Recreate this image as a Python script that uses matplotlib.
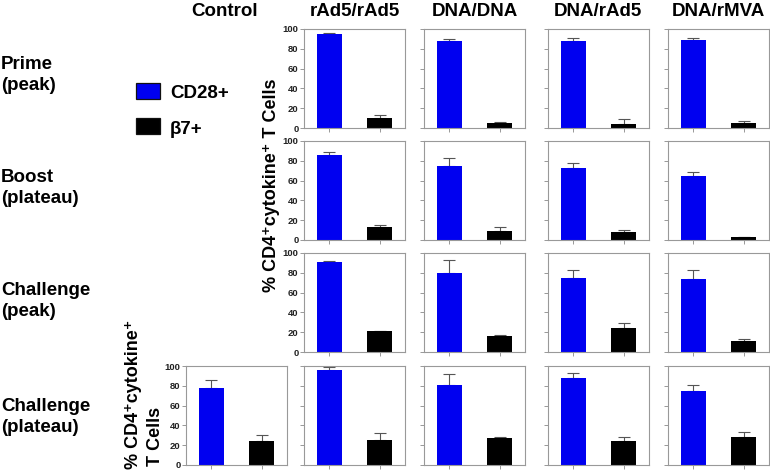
import matplotlib
matplotlib.use("Agg")
import matplotlib.pyplot as plt
from matplotlib.patches import Rectangle

plt.rcParams['font.family'] = ['Liberation Sans', 'DejaVu Sans']
plt.rcParams['font.weight'] = 'bold'

groups = ['Control', 'rAd5/rAd5', 'DNA/DNA', 'DNA/rAd5', 'DNA/rMVA']
phases = ['Prime\n(peak)', 'Boost\n(plateau)', 'Challenge\n(peak)', 'Challenge\n(plateau)']
subsets = ['CD28+', '\u03b27+']

# rows = phases, columns = groups (None = no panel)
cd28_mean = [
    [None, 95, 88, 88, 89],
    [None, 86, 75, 73, 65],
    [None, 91, 80, 75, 74],
    [78, 96, 81, 88, 75],
]
cd28_err = [
    [None, 1, 2, 2.5, 2],
    [None, 3, 8, 4.5, 3.5],
    [None, 0.5, 13, 7.5, 9],
    [7.5, 3, 10.5, 5, 5.5],
]
b7_mean = [
    [None, 10, 5, 4, 5.5],
    [None, 13, 9, 8, 2.7],
    [None, 21, 16, 24, 11.5],
    [24.5, 25.5, 27.5, 24, 28.5],
]
b7_err = [
    [None, 3, 1.5, 5, 1.5],
    [None, 2, 4.5, 2.5, 0],
    [None, 0, 1.5, 5, 2],
    [6, 6.5, 0.5, 4.5, 4.5],
]

colors = ['#0000f0', 'black']
W, H = 770, 470
col_left = [186, 304, 424, 548, 668]
row_top = [29, 141, 253, 366]
aw, ah = 101, 99

fig = plt.figure(figsize=(7.7, 4.7), dpi=100)

for r in range(len(phases)):
    for c in range(len(groups)):
        if cd28_mean[r][c] is None:
            continue
        ax = fig.add_axes([col_left[c] / W, 1 - (row_top[r] + ah) / H, aw / W, ah / H])
        means = [cd28_mean[r][c], b7_mean[r][c]]
        errs = [cd28_err[r][c], b7_err[r][c]]
        ax.bar([0, 1], means, width=0.5, color=colors, zorder=2)
        ax.errorbar([0, 1], means, yerr=[[0, 0], errs], fmt='none', ecolor='#555555',
                    elinewidth=0.8, capsize=4, capthick=0.8, zorder=1)
        ax.set_xlim(-0.5, 1.5)
        ax.set_ylim(0, 100)
        ax.set_xticks([0, 1])
        ax.set_xticklabels([])
        ax.set_yticks([0, 20, 40, 60, 80, 100])
        show_y = (c == 1 and r < 3) or (c == 0)
        if not show_y:
            ax.set_yticklabels([])
        for s in ax.spines.values():
            s.set_color('#999999')
            s.set_linewidth(0.8)
        ax.tick_params(direction='out', length=3, width=0.6, color='#888888',
                       labelsize=6.8, labelcolor='#222222', pad=1)
        for lab in ax.get_yticklabels():
            lab.set_fontweight('bold')

# column headers
head_x = [225, 355, 475, 598, 718]
for c, g in enumerate(groups):
    fig.text(head_x[c] / W, 1 - 12 / H, g, ha='center', va='center',
             fontsize=13.5, fontweight='bold')

# row labels
row_y = [75, 188, 301, 417]
for r, p in enumerate(phases):
    fig.text(1 / W, 1 - row_y[r] / H, p, ha='left', va='center', fontsize=13.5,
             fontweight='bold', linespacing=1.3)

# legend
leg_y = [91, 126]
for i, s in enumerate(subsets):
    y = leg_y[i]
    fig.patches.append(Rectangle((136 / W, 1 - (y + 8) / H), 24 / W, 16 / H,
                                 transform=fig.transFigure, facecolor=colors[i],
                                 edgecolor='#111111', linewidth=0.9))
    fig.text(170 / W, 1 - (y + 3) / H, s, ha='left', va='center', fontsize=13.5,
             fontweight='bold')

# y labels
fig.text(272 / W, 1 - 185 / H, '% CD4\u207acytokine\u207a T Cells', rotation=90,
         ha='center', va='center', fontsize=13, fontweight='bold')
fig.text(133 / W, 1 - 394 / H, '% CD4\u207acytokine\u207a', rotation=90,
         ha='center', va='center', fontsize=13, fontweight='bold')
fig.text(155 / W, 1 - 436 / H, 'T Cells', rotation=90,
         ha='center', va='center', fontsize=13, fontweight='bold')

fig.savefig('out.png', dpi=100)
